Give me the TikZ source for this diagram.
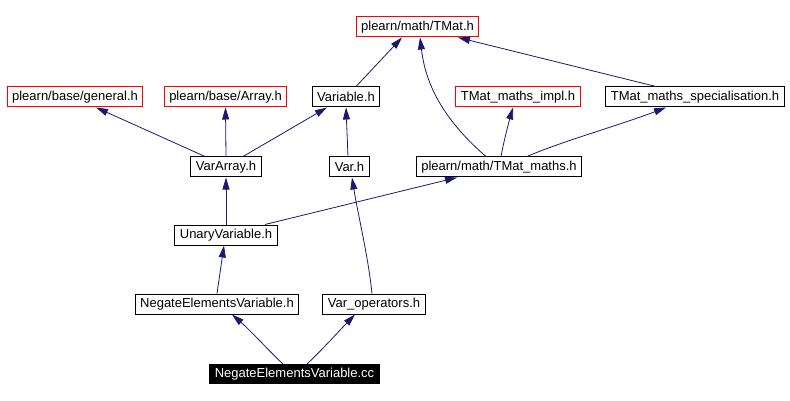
\documentclass[tikz,border=0pt]{standalone}
\usepackage{fontspec}
\setmainfont{Liberation Sans}
\usetikzlibrary{arrows.meta}
\definecolor{edge}{HTML}{191970}
\definecolor{missing}{HTML}{FF0000}
\tikzset{
  file/.style={draw=black, line width=1pt, fill=white, minimum height=20pt, inner xsep=5pt, inner ysep=2pt,
    font=\fontsize{13}{15}\selectfont},
  extfile/.style={file, draw=missing},
  root/.style={file, fill=black, text=white, minimum height=19pt},
  dep/.style={{Triangle[length=12pt,width=7pt]}-, line width=0.8pt, draw=edge},
}

\begin{document}
\begin{tikzpicture}[x=1pt,y=-1pt]
  \useasboundingbox (0,0) rectangle (790,401);

  % top row
  \node[extfile] (tmat) at (417.5,27) {plearn/math/TMat.h};

  % second row
  \node[extfile] (general) at (75,97) {plearn/base/general.h};
  \node[extfile] (array) at (225.5,97) {plearn/base/Array.h};
  \node[file] (variable) at (346,97) {Variable.h};
  \node[extfile] (mathsimpl) at (518,97) {TMat\_maths\_impl.h};
  \node[file] (mathsspec) at (695,97) {TMat\_maths\_specialisation.h};

  % third row
  \node[file] (vararray) at (226,167) {VarArray.h};
  \node[file] (var) at (349.5,167) {Var.h};
  \node[file] (tmatmaths) at (499,167) {plearn/math/TMat\_maths.h};

  % lower rows
  \node[file] (unary) at (226,235) {UnaryVariable.h};
  \node[file] (negh) at (217,304) {NegateElementsVariable.h};
  \node[file] (varops) at (374,304) {Var\_operators.h};
  \node[root] (negcc) at (294.5,374) {NegateElementsVariable.cc};

  % include edges, arrow at the included file
  \draw[dep] ([xshift=15pt]negh.south) .. controls (250,330) and (270,352) .. ([xshift=-11.5pt]negcc.north);
  \draw[dep] ([xshift=-19pt]varops.south) .. controls (340,330) and (322,350) .. ([xshift=12.5pt]negcc.north);
  \draw[dep] ([xshift=-2pt]unary.south) -- (negh.north);
  \draw[dep] ([xshift=2.5pt]var.south) .. controls (358,215) and (368,255) .. ([xshift=-2pt]varops.north);
  \draw[dep] (vararray.south) -- (unary.north);
  \draw[dep] ([xshift=-42pt]tmatmaths.south) -- ([xshift=39pt]unary.north);
  \draw[dep] ([xshift=21pt]general.south) -- ([xshift=-21pt]vararray.north);
  \draw[dep] (array.south) -- (vararray.north);
  \draw[dep] ([xshift=-19pt]variable.south) -- ([xshift=17pt]vararray.north);
  \draw[dep] (variable.south) -- ([xshift=-1.5pt]var.north);
  \draw[dep] ([xshift=-15.5pt]tmat.south) -- ([xshift=10pt]variable.north);
  \draw[dep] ([xshift=40.5pt]tmat.south) -- ([xshift=-39pt]mathsspec.north);
  \draw[dep] ([xshift=2.5pt]tmat.south) .. controls (424,70) and (432,110) .. ([xshift=-13pt]tmatmaths.north);
  \draw[dep] ([xshift=-5pt]mathsimpl.south) .. controls (508,125) and (503,145) .. ([xshift=2pt]tmatmaths.north);
  \draw[dep] ([xshift=-29pt]mathsspec.south) .. controls (620,125) and (560,142) .. ([xshift=28pt]tmatmaths.north);
\end{tikzpicture}
\end{document}
